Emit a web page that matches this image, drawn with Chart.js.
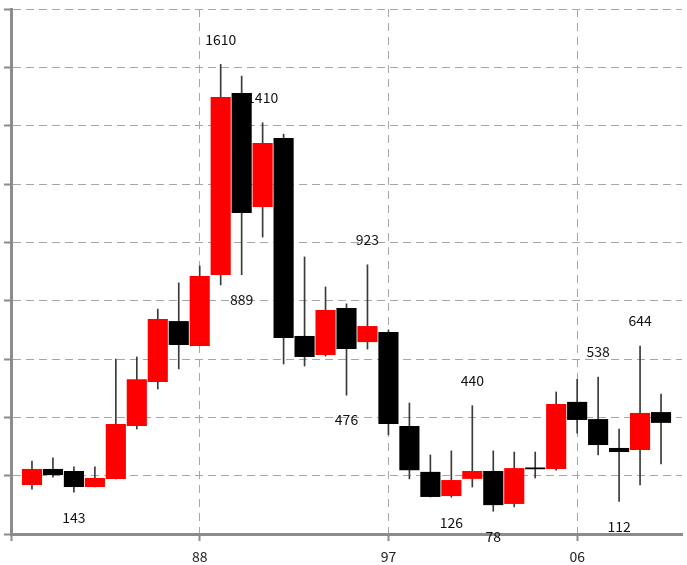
<!DOCTYPE html>
<html>
<head>
<meta charset="utf-8">
<title>Candles</title>
<script src="https://cdn.jsdelivr.net/npm/chart.js@4"></script>
<style>
  html, body { margin: 0; padding: 0; background: #fff; }
  #wrap { width: 687px; height: 565px; }
</style>
</head>
<body>
<div id="wrap"><canvas id="candleChart" width="687" height="565"></canvas></div>
<script>
// -------------------------------
// Data (one candle per year)
// -------------------------------
const years  = [1980, 1981, 1982, 1983, 1984, 1985, 1986, 1987, 1988, 1989, 1990,
                1991, 1992, 1993, 1994, 1995, 1996, 1997, 1998, 1999, 2000,
                2001, 2002, 2003, 2004, 2005, 2006, 2007, 2008, 2009, 2010];
const opens  = [168, 223, 216, 161, 189, 370, 521, 730, 645, 888, 1512,
                1121, 1358, 679, 614, 775, 658, 693, 370, 213, 130,
                189, 216, 103, 228, 223, 453, 394, 295, 288, 418];
const highs  = [250, 261, 230, 230, 600, 607, 771, 861, 919, 1610, 1570,
                1410, 1371, 950, 847, 789, 923, 700, 449, 271, 285,
                440, 285, 281, 281, 487, 530, 538, 360, 644, 480];
const lows   = [154, 195, 143, 161, 189, 360, 497, 566, 645, 854, 889,
                1018, 583, 576, 610, 476, 634, 340, 189, 127, 126,
                161, 78, 93, 192, 219, 346, 271, 112, 168, 240];
const closes = [223, 202, 161, 192, 377, 531, 737, 648, 885, 1498, 1101,
                1341, 672, 607, 768, 634, 713, 377, 219, 127, 185,
                216, 99, 226, 222, 446, 391, 305, 281, 415, 381];

// x axis tick years, and the highs / lows that carry a number
const tickYears = [1979, 1988, 1997, 2006];
const highMarks = [1989, 1991, 1996, 2001, 2007, 2009];
const lowMarks  = [1982, 1990, 1995, 2000, 2002, 2008];

const UP_COLOR = "#ff0000";
const DOWN_COLOR = "#000000";
const AXIS_COLOR = "#8c8c8c";
const GRID_COLOR = "#a6a6a6";

Chart.defaults.font.family = "'Noto Sans CJK JP', 'Liberation Sans', sans-serif";
Chart.defaults.font.size = 14;
Chart.defaults.color = "#222";

// -------------------------------
// Build datasets
// -------------------------------
const bodies = years.map((yr, i) => ({ x: yr, y: [opens[i], closes[i]] }));
const wicks = years.map((yr, i) => ({ x: yr, y: [lows[i], highs[i]] }));
const bodyColors = years.map((yr, i) => closes[i] >= opens[i] ? UP_COLOR : DOWN_COLOR);

// numbers at the marked highs and lows, drawn under the candles
const markLabels = {
  id: "markLabels",
  beforeDatasetsDraw(chart) {
    const { ctx, scales } = chart;
    ctx.save();
    ctx.font = "14px " + Chart.defaults.font.family;
    ctx.fillStyle = "#111";
    ctx.textAlign = "center";
    ctx.textBaseline = "middle";
    highMarks.forEach(yr => {
      const i = years.indexOf(yr);
      const x = scales.x.getPixelForValue(yr);
      const y = scales.y.getPixelForValue(highs[i]) - 25;
      ctx.fillText(String(highs[i]), x, y);
    });
    lowMarks.forEach(yr => {
      const i = years.indexOf(yr);
      const x = scales.x.getPixelForValue(yr);
      const y = scales.y.getPixelForValue(lows[i]) + 25;
      ctx.fillText(String(lows[i]), x, y);
    });
    ctx.restore();
  }
};

// -------------------------------
// Render Chart
// -------------------------------
new Chart(document.getElementById("candleChart"), {
  type: "bar",
  data: {
    datasets: [
      {
        data: bodies,
        backgroundColor: bodyColors,
        borderWidth: 0,
        grouped: false,
        categoryPercentage: 1,
        barPercentage: 0.96,
        order: 0
      },
      {
        data: wicks,
        backgroundColor: "#3a3a3a",
        borderWidth: 0,
        grouped: false,
        barThickness: 1,
        order: 1
      }
    ]
  },
  options: {
    responsive: false,
    animation: false,
    devicePixelRatio: 1,
    layout: { padding: { top: 9, right: 5, left: 4, bottom: 1 } },
    plugins: {
      legend: { display: false },
      tooltip: { enabled: false }
    },
    scales: {
      x: {
        type: "linear",
        min: 1979,
        max: 2011,
        offset: false,
        afterBuildTicks: scale => {
          scale.ticks = tickYears.map(v => ({ value: v }));
        },
        afterFit: scale => { scale.height = 30; },
        ticks: {
          padding: 7,
          maxRotation: 0,
          autoSkip: false,
          callback: v => v === 1979 ? "" : String(v % 100).padStart(2, "0")
        },
        grid: {
          offset: false,
          color: GRID_COLOR,
          tickLength: 7,
          tickColor: AXIS_COLOR,
          tickWidth: 2
        },
        border: { color: AXIS_COLOR, width: 3, dash: [8, 6] }
      },
      y: {
        min: 0,
        max: 1800,
        ticks: { stepSize: 200, display: false },
        grid: {
          color: GRID_COLOR,
          tickLength: 7,
          tickColor: AXIS_COLOR,
          tickWidth: 2
        },
        border: { color: AXIS_COLOR, width: 3, dash: [8, 5] }
      }
    }
  },
  plugins: [markLabels]
});
</script>
</body>
</html>
